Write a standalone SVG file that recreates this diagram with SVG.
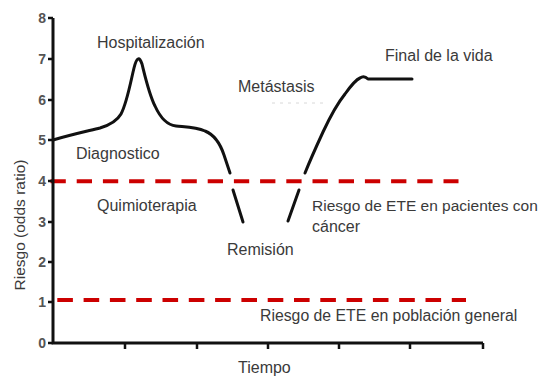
<svg xmlns="http://www.w3.org/2000/svg" width="543" height="376" viewBox="0 0 543 376">
<style>
.lbl{font-family:"Liberation Sans",Arial,sans-serif;font-size:16px;fill:#3a3a3a}
.num{font-family:"Liberation Sans",Arial,sans-serif;font-size:14px;font-weight:bold;fill:#555;text-anchor:end}
.axis{stroke:#111;stroke-width:3;fill:none}
.tick{stroke:#111;stroke-width:2.5;fill:none}
.curve{stroke:#111;stroke-width:3;fill:none;stroke-linecap:round;stroke-linejoin:round}
.ref{stroke:#cc0000;stroke-width:4;fill:none;stroke-dasharray:15.3 10.9}
</style>
<rect width="543" height="376" fill="#fff"/>
<g id="reference-lines">
<line class="ref" x1="50.5" y1="181.3" x2="458.5" y2="181.3"/>
<line class="ref" x1="57.3" y1="300" x2="466" y2="300" style="stroke-dasharray:15.6 10.7"/>
</g>
<g id="axes">
<path class="axis" d="M53,18 V343 H483"/>
<path class="tick" d="M48,18 H53 M48,59 H53 M48,100 H53 M48,140 H53 M48,181 H53 M48,222 H53 M48,262 H53 M48,302 H53 M48,343 H53"/>
<path class="tick" d="M125,343 V349 M197,343 V349 M268,343 V349 M339,343 V349 M410,343 V349 M483,343 V349"/>
<text class="num" x="46" y="23">8</text>
<text class="num" x="46" y="64">7</text>
<text class="num" x="46" y="105">6</text>
<text class="num" x="46" y="145">5</text>
<text class="num" x="46" y="186">4</text>
<text class="num" x="46" y="227">3</text>
<text class="num" x="46" y="267">2</text>
<text class="num" x="46" y="307">1</text>
<text class="num" x="46" y="348">0</text>
<text class="lbl" transform="translate(25,225) rotate(-90)" text-anchor="middle" style="font-size:15.5px">Riesgo (odds ratio)</text>
<text class="lbl" x="238" y="373">Tiempo</text>
</g>
<g id="risk-curve">
<path class="curve" d="M53,140 C70,135 88,131 100,128 C110,125 117,121 121,114 C127,103 131,80 134,68 Q138,52 142,64 C145,76 149,94 155,106 C160,117 166,125 176,126 C186,127 196,127 205,131 C215,135 220,143 224,155 L230,173"/>
<path class="curve" d="M233,190 L243,222"/>
<path class="curve" d="M288,221 L299,190"/>
<path class="curve" d="M305,173 C311,158 317,145 323,132 C330,117 337,104 345,94 C350,87 355,80 360,78 Q364,75 368,79 L412,79"/>
</g>
<g id="faint-mark">
<line x1="272" y1="103" x2="328" y2="103" stroke="#d8d8d8" stroke-width="1" stroke-dasharray="3 5"/>
</g>
<g id="labels">
<text class="lbl" x="97" y="48">Hospitalización</text>
<text class="lbl" x="76" y="159">Diagnostico</text>
<text class="lbl" x="238" y="92">Metástasis</text>
<text class="lbl" x="385" y="61">Final de la vida</text>
<text class="lbl" x="97" y="211">Quimioterapia</text>
<text class="lbl" x="227" y="255">Remisión</text>
<text class="lbl" x="312" y="211" style="font-size:15.5px">Riesgo de ETE en pacientes con</text>
<text class="lbl" x="312" y="232">cáncer</text>
<text class="lbl" x="260" y="321" style="font-size:15.8px">Riesgo de ETE en población general</text>
</g>
</svg>
